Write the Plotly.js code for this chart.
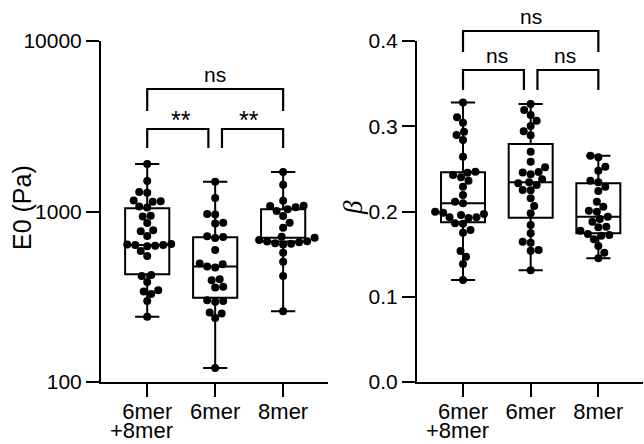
<!DOCTYPE html>
<html><head><meta charset="utf-8">
<script src="https://cdn.plot.ly/plotly-3.0.1.min.js"></script>
<style>html,body{margin:0;padding:0;background:#fff}#chart{width:644px;height:444px}</style>
</head><body><div id="chart"></div>
<script>
// ---------- data ----------
const categories = ['6mer\n+8mer', '6mer', '8mer'];

const e0_6mer8mer = [1899, 1510, 1302, 1290, 1160, 1150, 1140, 1070, 1055, 945, 935, 856, 775, 765, 718, 645, 640, 636, 636, 630, 625, 587, 548, 424, 418, 386, 345, 340, 328, 299, 241];
const e0_6mer = [1495, 1200, 967, 960, 860, 850, 715, 709, 700, 595, 495, 490, 475, 470, 400, 395, 362, 358, 302, 299, 296, 256, 252, 237, 121];
const e0_8mer = [1705, 1436, 1157, 1081, 1077, 1058, 1030, 1007, 941, 860, 804, 711, 702, 680, 670, 668, 660, 652, 648, 640, 573, 508, 418, 260];

const beta_6mer8mer = [0.328, 0.3105, 0.3042, 0.2936, 0.2897, 0.2839, 0.2643, 0.2467, 0.2455, 0.2428, 0.2401, 0.2361, 0.2291, 0.2194, 0.2115, 0.2096, 0.1998, 0.1986, 0.1971, 0.1959, 0.1932, 0.1932, 0.1925, 0.1861, 0.1855, 0.1783, 0.1751, 0.1537, 0.147, 0.1384, 0.1196];
const beta_6mer = [0.3261, 0.319, 0.3132, 0.3065, 0.3003, 0.2941, 0.2894, 0.2702, 0.2584, 0.2518, 0.2463, 0.2458, 0.2436, 0.2378, 0.2342, 0.2331, 0.2311, 0.2252, 0.2248, 0.2155, 0.2064, 0.1979, 0.1842, 0.1744, 0.1646, 0.1634, 0.1548, 0.154, 0.131];
const beta_8mer = [0.2655, 0.2636, 0.2526, 0.2479, 0.2361, 0.2342, 0.2291, 0.224, 0.2115, 0.2056, 0.2009, 0.1998, 0.1939, 0.1912, 0.188, 0.1822, 0.1815, 0.1775, 0.1736, 0.1724, 0.1716, 0.1674, 0.1595, 0.1517, 0.1451];

// box statistics (min-to-max whiskers)
const e0_min    = [241, 121, 260];
const e0_q1     = [428, 312, 667];
const e0_median = [636, 475, 702];
const e0_q3     = [1044, 706, 1030];
const e0_max    = [1899, 1495, 1705];

const beta_min    = [0.1196, 0.131, 0.1451];
const beta_q1     = [0.1873, 0.1927, 0.1744];
const beta_median = [0.2096, 0.2342, 0.1939];
const beta_q3     = [0.246, 0.2792, 0.2331];
const beta_max    = [0.328, 0.3261, 0.2655];

const e0_tickvals = [100, 1000, 10000];
const e0_ticktext = ['100', '1000', '10000'];
const beta_tickvals = [0, 0.1, 0.2, 0.3, 0.4];

// significance comparisons: [groupA, groupB, label, level]
const e0_comparisons = [[0, 1, '**', 0], [1, 2, '**', 0], [0, 2, 'ns', 1]];
const beta_comparisons = [[0, 1, 'ns', 0], [1, 2, 'ns', 0], [0, 2, 'ns', 1]];

// ---------- layout geometry ----------
const W = 644, H = 444;
const M = {l: 101, r: 1, t: 41, b: 62};
const plotW = W - M.l - M.r, plotH = H - M.t - M.b;
const panelW = 227;
const xRange = [-0.68, 2.66];
const pxPerUnit = panelW / (xRange[1] - xRange[0]);
const FONT = 'Liberation Sans, Arial, Helvetica, sans-serif';
const DIAM = 8;

function swarmOffsets(vals, toPx, diam) {
  const order = vals.map((v, i) => i).sort((a, b) => vals[a] - vals[b]);
  const placed = [];
  const offs = new Array(vals.length).fill(0);
  let flip = 1;
  order.forEach(i => {
    const y = toPx(vals[i]);
    let chosen = 0;
    for (let k = 0; k < 400; k++) {
      const cands = k === 0 ? [0] : [flip * k * 0.5, -flip * k * 0.5];
      let ok = null;
      for (const c of cands) {
        if (placed.every(p => (p.x - c) ** 2 + (p.y - y) ** 2 >= diam * diam * 0.98)) { ok = c; break; }
      }
      if (ok !== null) { chosen = ok; break; }
    }
    if (chosen !== 0) flip = -flip;
    placed.push({x: chosen, y});
    offs[i] = chosen;
  });
  return offs;
}

const e0ToPx = v => (Math.log10(v) - 2) / 2 * plotH;
const betaToPx = v => v / 0.4 * plotH;

function swarmTrace(groups, toPx, xa, ya) {
  const xs = [], ys = [];
  groups.forEach((vals, g) => {
    const offs = swarmOffsets(vals, toPx, DIAM);
    vals.forEach((v, i) => { xs.push(g + offs[i] / pxPerUnit); ys.push(v); });
  });
  return {type: 'scatter', mode: 'markers', x: xs, y: ys, xaxis: xa, yaxis: ya,
    marker: {color: '#000', size: DIAM}, cliponaxis: false, hoverinfo: 'skip'};
}

function boxTrace(q1, med, q3, lo, hi, xa, ya) {
  return {type: 'box', x: [0, 1, 2], q1: q1, median: med, q3: q3, lowerfence: lo, upperfence: hi,
    xaxis: xa, yaxis: ya, boxpoints: false, width: 0.65, whiskerwidth: 0.55,
    line: {color: '#000', width: 2}, fillcolor: 'rgba(0,0,0,0)', hoverinfo: 'skip'};
}

const traces = [
  boxTrace(e0_q1, e0_median, e0_q3, e0_min, e0_max, 'x', 'y'),
  boxTrace(beta_q1, beta_median, beta_q3, beta_min, beta_max, 'x2', 'y2'),
  swarmTrace([e0_6mer8mer, e0_6mer, e0_8mer], e0ToPx, 'x', 'y'),
  swarmTrace([beta_6mer8mer, beta_6mer, beta_8mer], betaToPx, 'x2', 'y2')
];

// brackets
const paperY = px => (M.t + plotH - px) / plotH;
const bracketStyle = {
  left:  {levels: [129, 89], legs: [19, 22]},
  right: {levels: [70, 31], legs: [20, 21]}
};
const shapes = [], annotations = [];
function addBrackets(comps, style, xref) {
  comps.forEach(([a, b, label, lvl]) => {
    let x0 = a, x1 = b;
    if (lvl === 0) { if (a === 1) x0 += 0.1; if (b === 1) x1 -= 0.1; }
    const yTop = paperY(style.levels[lvl]);
    const yLeg = paperY(style.levels[lvl] + style.legs[lvl]);
    shapes.push({type: 'path', xref: xref, yref: 'paper',
      path: `M${x0},${yLeg} L${x0},${yTop} L${x1},${yTop} L${x1},${yLeg}`,
      line: {color: '#000', width: 2.2}});
    annotations.push({xref: xref, yref: 'paper', x: (a + b) / 2, y: yTop, yanchor: 'bottom',
      text: label, showarrow: false, font: {family: FONT, size: label === '**' ? 25 : 21, color: '#000'},
      yshift: label === '**' ? -7 : 1});
  });
}
addBrackets(e0_comparisons, bracketStyle.left, 'x');
addBrackets(beta_comparisons, bracketStyle.right, 'x2');

// category labels: first line as tick text, further lines as annotations below
const firstLines = categories.map(c => c.split('\n')[0]);
['x', 'x2'].forEach(xref => {
  categories.forEach((c, i) => {
    c.split('\n').slice(1).forEach((line, j) => {
      annotations.push({xref: xref, yref: 'paper', x: i, y: paperY(H), text: line,
        showarrow: false, xanchor: 'center', yanchor: 'bottom', xshift: -6, yshift: 0, borderpad: 0,
        font: {family: FONT, size: 22, color: '#000'}});
    });
  });
});

// axis titles
annotations.push({xref: 'paper', yref: 'paper', x: (22 - M.l) / plotW, y: paperY(208), text: 'E0 (Pa)',
  textangle: -90, showarrow: false, xanchor: 'center', yanchor: 'middle',
  font: {family: FONT, size: 25, color: '#000'}});
annotations.push({xref: 'paper', yref: 'paper', x: (353 - M.l) / plotW, y: paperY(208), text: '<i>β</i>',
  textangle: -90, showarrow: false, xanchor: 'center', yanchor: 'middle',
  font: {family: 'Liberation Serif, Times New Roman, serif', size: 27, color: '#000'}});

const axCommon = {showline: true, linewidth: 2, linecolor: '#000', ticks: 'outside', ticklen: 13,
  tickwidth: 2, tickcolor: '#000', showgrid: false, zeroline: false, fixedrange: true,
  tickfont: {family: FONT, size: 21, color: '#000'}};
const xTickFont = {family: FONT, size: 22, color: '#000'};

const layout = {
  width: W, height: H, margin: M, showlegend: false,
  paper_bgcolor: '#fff', plot_bgcolor: '#fff',
  font: {family: FONT, color: '#000'},
  xaxis: Object.assign({}, axCommon, {domain: [0, panelW / plotW], range: xRange, type: 'linear',
    tickvals: [0, 1, 2], ticktext: firstLines, anchor: 'y', tickfont: xTickFont, ticklabelstandoff: -4}),
  yaxis: Object.assign({}, axCommon, {type: 'log', range: [2, 4], tickvals: e0_tickvals,
    ticktext: e0_ticktext, anchor: 'x'}),
  xaxis2: Object.assign({}, axCommon, {domain: [(417 - M.l) / plotW, 1], range: xRange, type: 'linear',
    tickvals: [0, 1, 2], ticktext: firstLines, anchor: 'y2', tickfont: xTickFont, ticklabelstandoff: -4}),
  yaxis2: Object.assign({}, axCommon, {range: [0, 0.4], tickvals: beta_tickvals, tickformat: '.1f',
    anchor: 'x2'}),
  shapes: shapes, annotations: annotations
};

Plotly.newPlot('chart', traces, layout, {staticPlot: true, displayModeBar: false});
</script></body></html>
